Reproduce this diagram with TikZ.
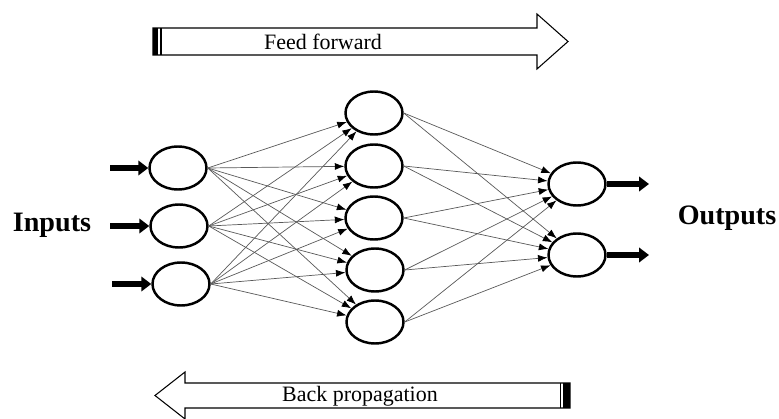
\documentclass[tikz,border=0pt]{standalone}
\usepackage{fontspec}
\setmainfont{Liberation Serif}
\usepackage{tikz}
\usetikzlibrary{shapes}
\usetikzlibrary{arrows.meta}

\begin{document}
\begin{tikzpicture}[x=0.02cm,y=-0.02cm]
                \tikzset{neuron/.style = {shape=ellipse,draw,line width=1.4pt,inner sep=0pt,minimum width=1.14cm,minimum height=0.86cm}}
                \tikzset{edge/.style = {-{Latex[length=1.9mm,width=1.4mm,black]},draw=black!65,line width=0.4pt}}
                \tikzset{io/.style = {-{Triangle[length=2mm,width=2.9mm]},line width=3.2pt}}
                \tikzset{label/.style = {font=\bfseries\fontsize{16}{18}\selectfont}}
                \tikzset{banner/.style = {font=\fontsize{12.5}{14}\selectfont}}

                \useasboundingbox (0,0) rectangle (779,419);

                % feed forward arrow
                \draw[line width=0.6pt] (153,28) -- (537,28) -- (537,14) -- (568,41.5) -- (537,69) -- (537,55) -- (153,55) -- cycle;
                \fill (153,28) rectangle (158,55);
                \draw[line width=1pt] (161,28) -- (161,55);
                \node[banner] (ff) at (323,42) {Feed forward};

                % back propagation arrow
                \draw[line width=0.6pt] (570,383) -- (185,383) -- (185,372) -- (155,395.5) -- (185,419) -- (185,408) -- (570,408) -- cycle;
                \fill (563,383) rectangle (570,408);
                \draw[line width=1pt] (560.5,383) -- (560.5,408);
                \node[banner] (bp) at (360,396) {Back propagation};

                \node[label] (inputs) at (52,225) {Inputs};
                \node[label] (outputs) at (727,218) {Outputs};

                \node[neuron] (i1) at (178,168) {};
                \node[neuron] (i2) at (179,226) {};
                \node[neuron] (i3) at (181,284) {};

                \node[neuron] (h1) at (374,113) {};
                \node[neuron] (h2) at (374,166) {};
                \node[neuron] (h3) at (374,218) {};
                \node[neuron] (h4) at (375,270) {};
                \node[neuron] (h5) at (375,322) {};

                \node[neuron] (o1) at (577,184) {};
                \node[neuron] (o2) at (577,255) {};

                \coordinate (in1) at (110,168);
                \coordinate (in2) at (110,226);
                \coordinate (in3) at (112,284);
                \coordinate (out1) at (649,184);
                \coordinate (out2) at (649,255);

                \draw[io] (in1) -- (i1);
                \draw[io] (in2) -- (i2);
                \draw[io] (in3) -- (i3);
                \draw[io] (o1) -- (out1);
                \draw[io] (o2) -- (out2);

                \draw[edge] (i1.east) -- (h1);
                \draw[edge] (i1.east) -- (h2);
                \draw[edge] (i1.east) -- (h3);
                \draw[edge] (i1.east) -- (h4);
                \draw[edge] (i1.east) -- (h5);
                \draw[edge] (i2.east) -- (h1);
                \draw[edge] (i2.east) -- (h2);
                \draw[edge] (i2.east) -- (h3);
                \draw[edge] (i2.east) -- (h4);
                \draw[edge] (i2.east) -- (h5);
                \draw[edge] (i3.east) -- (h1);
                \draw[edge] (i3.east) -- (h2);
                \draw[edge] (i3.east) -- (h3);
                \draw[edge] (i3.east) -- (h4);
                \draw[edge] (i3.east) -- (h5);

                \draw[edge] (h1.east) -- (o1);
                \draw[edge] (h1.east) -- (o2);
                \draw[edge] (h2.east) -- (o1);
                \draw[edge] (h2.east) -- (o2);
                \draw[edge] (h3.east) -- (o1);
                \draw[edge] (h3.east) -- (o2);
                \draw[edge] (h4.east) -- (o1);
                \draw[edge] (h4.east) -- (o2);
                \draw[edge] (h5.east) -- (o1);
                \draw[edge] (h5.east) -- (o2);

        \end{tikzpicture}
\end{document}
